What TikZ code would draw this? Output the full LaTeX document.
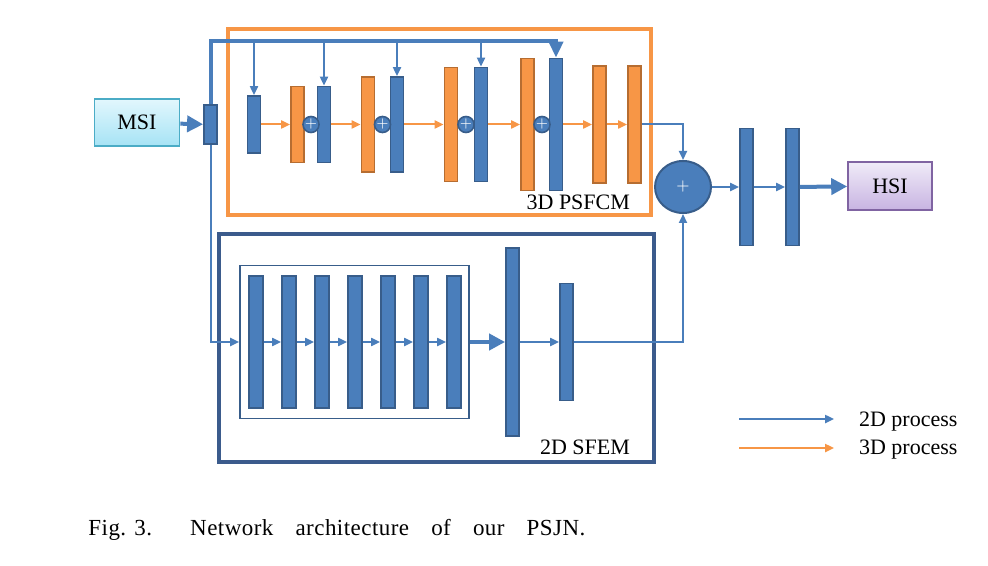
\documentclass[tikz,border=0pt]{standalone}
\usepackage{fontspec}
\setmainfont{Liberation Serif}
\usetikzlibrary{arrows.meta, positioning, shapes.geometric}

\definecolor{blkblue}{HTML}{4A7EBB}
\definecolor{blkedge}{HTML}{385D8A}
\definecolor{blkorange}{HTML}{F79646}
\definecolor{oedge}{HTML}{B66D31}
\definecolor{sfemblue}{HTML}{3B5B8C}
\definecolor{msiedge}{HTML}{4BACC6}
\definecolor{msitop}{HTML}{E2F7FD}
\definecolor{msibot}{HTML}{A6E3F5}
\definecolor{hsiedge}{HTML}{8064A2}
\definecolor{hsitop}{HTML}{F0EBF8}
\definecolor{hsibot}{HTML}{C8B4E2}

\begin{document}
\begin{tikzpicture}[x=0.5pt, y=-0.5pt, font=\fontsize{11}{13}\selectfont,
   bblk/.style={draw=blkedge, fill=blkblue, line width=0.9pt, minimum width=6.5pt, inner sep=0pt},
   oblk/.style={draw=oedge, fill=blkorange, line width=0.9pt, minimum width=6.5pt, inner sep=0pt},
   addc/.style={circle, draw=blkedge, fill=blkblue, line width=0.8pt, minimum size=7.5pt, inner sep=0pt, text=white, font=\fontsize{7}{7}\selectfont},
   two/.style={draw=blkblue, line width=1pt, -{Triangle[length=4.5pt, width=4pt]}},
   three/.style={draw=blkorange, line width=1pt, -{Triangle[length=4.5pt, width=4pt]}},
   fat/.style={draw=blkblue, line width=2pt, -{Triangle[length=8pt, width=8pt]}}]
   \useasboundingbox (0,0) rectangle (988,566);

   % module frames
   \node[draw=blkorange, line width=2pt, minimum width=211.5pt, minimum height=93pt] (psfcm) at (439.5,122) {};
   \node[draw=sfemblue, line width=2pt, minimum width=217.75pt, minimum height=114pt] (sfem) at (436.25,348) {};
   \node[anchor=base east] (psfcm_lbl) at (637,210) {3D PSFCM};
   \node[anchor=base east] (sfem_lbl) at (637,454) {2D SFEM};

   % input and output
   \node[draw=msiedge, line width=0.8pt, top color=msitop, bottom color=msibot, minimum width=42.5pt, minimum height=23.5pt] (msi) at (137,122.5) {MSI};
   \node[bblk, minimum height=19.5pt] (in) at (210.5,124.5) {};
   \node[draw=hsiedge, line width=0.8pt, top color=hsitop, bottom color=hsibot, minimum width=42pt, minimum height=24pt] (hsi) at (890,186) {HSI};

   % 3D PSFCM chain
   \node[bblk, minimum height=28.5pt] (b_1) at (254,124.5) {};
   \node[oblk, minimum height=38pt] (o_1) at (297.5,124.5) {};
   \node[bblk, minimum height=38pt] (b_2) at (324,124.5) {};
   \node[oblk, minimum height=47.5pt] (o_2) at (368,124.5) {};
   \node[bblk, minimum height=47.5pt] (b_3) at (397,124.5) {};
   \node[oblk, minimum height=57pt] (o_3) at (451,124.5) {};
   \node[bblk, minimum height=57pt] (b_4) at (481,124.5) {};
   \node[oblk, minimum height=66pt] (o_4) at (527.5,124.5) {};
   \node[bblk, minimum height=66pt] (b_5) at (556,124.5) {};
   \node[oblk, minimum height=58.5pt] (o_5) at (599.5,124.5) {};
   \node[oblk, minimum height=58.5pt] (o_6) at (634.5,124.5) {};
   \node[addc] (p_1) at (311,124.5) {$+$};
   \node[addc] (p_2) at (382.5,124.5) {$+$};
   \node[addc] (p_3) at (466,124.5) {$+$};
   \node[addc] (p_4) at (542,124.5) {$+$};
   \coordinate (bus) at (556,41);

   % 2D SFEM chain
   \node[draw=blkedge, line width=0.8pt, minimum width=114.5pt, minimum height=76.5pt] (inner) at (354.5,342) {};
   \begin{scope}[on grid, node distance=16.5pt, every node/.style={bblk, minimum width=7pt, minimum height=66pt}]
   \node (f_1) at (256,342) {};
   \node (f_2) [right=of f_1] {};
   \node (f_3) [right=of f_2] {};
   \node (f_4) [right=of f_3] {};
   \node (f_5) [right=of f_4] {};
   \node (f_6) [right=of f_5] {};
   \node (f_7) [right=of f_6] {};
   \end{scope}
   \node[bblk, minimum height=94pt] (big) at (512.5,342) {};
   \node[bblk, minimum height=58.5pt] (sm) at (566.5,342) {};

   % fusion
   \node[ellipse, draw=blkedge, fill=blkblue, line width=1pt, minimum width=28pt, minimum height=26pt, inner sep=0pt, text=white, font=\fontsize{8}{8}\selectfont] (sum) at (683,187) {$+$};
   \node[bblk, minimum height=58.5pt] (c_1) at (746.5,187) {};
   \node[bblk, minimum height=58.5pt] (c_2) at (792.5,187) {};

   % connectors
   \draw[fat] (msi) -- (in);
   \draw[draw=blkblue, line width=2pt, -{Triangle[length=8pt, width=7pt]}] (in.north) |- (bus) -- (b_5.north);
   \draw[two] (b_1.north |- bus) -- (b_1.north);
   \draw[two] (b_2.north |- bus) -- (b_2.north);
   \draw[two] (b_3.north |- bus) -- (b_3.north);
   \draw[two] (b_4.north |- bus) -- (b_4.north);
   \draw[three] (b_1) -- (o_1);
   \draw[three] (b_2) -- (o_2);
   \draw[three] (b_3) -- (o_3);
   \draw[three] (b_4) -- (o_4);
   \draw[three] (b_5) -- (o_5);
   \draw[three] (o_5) -- (o_6);
   \draw[two] (o_6.east) -| (sum.north);

   \draw[two] (in.south) |- (inner.west);
   \draw[two] (f_1) -- (f_2);
   \draw[two] (f_2) -- (f_3);
   \draw[two] (f_3) -- (f_4);
   \draw[two] (f_4) -- (f_5);
   \draw[two] (f_5) -- (f_6);
   \draw[two] (f_6) -- (f_7);
   \draw[fat] (inner.east) -- (big);
   \draw[two] (big) -- (sm);
   \draw[two] (sm.east) -| (sum.south);

   \draw[two] (sum) -- (c_1);
   \draw[two] (c_1) -- (c_2);
   \draw[fat] (c_2) -- (hsi);

   % legend
   \coordinate (l2_a) at (739,419);
   \coordinate (l2_b) at (834,419);
   \coordinate (l3_a) at (739,448);
   \coordinate (l3_b) at (834,448);
   \draw[two, line width=1.3pt] (l2_a) -- (l2_b);
   \draw[three, line width=1.3pt] (l3_a) -- (l3_b);
   \node[anchor=base west] (l2_t) at (852,426) {2D process};
   \node[anchor=base west] (l3_t) at (852,454) {3D process};

   % caption
   \node[anchor=base west, inner sep=0pt, font=\fontsize{11.5}{13}\selectfont\addfontfeature{LetterSpace=2}] (cap) at (88,535) {\makebox[248.5pt][s]{\mbox{Fig. 3.}\hspace{19pt}Network architecture of our PSJN.}};
\end{tikzpicture}
\end{document}
